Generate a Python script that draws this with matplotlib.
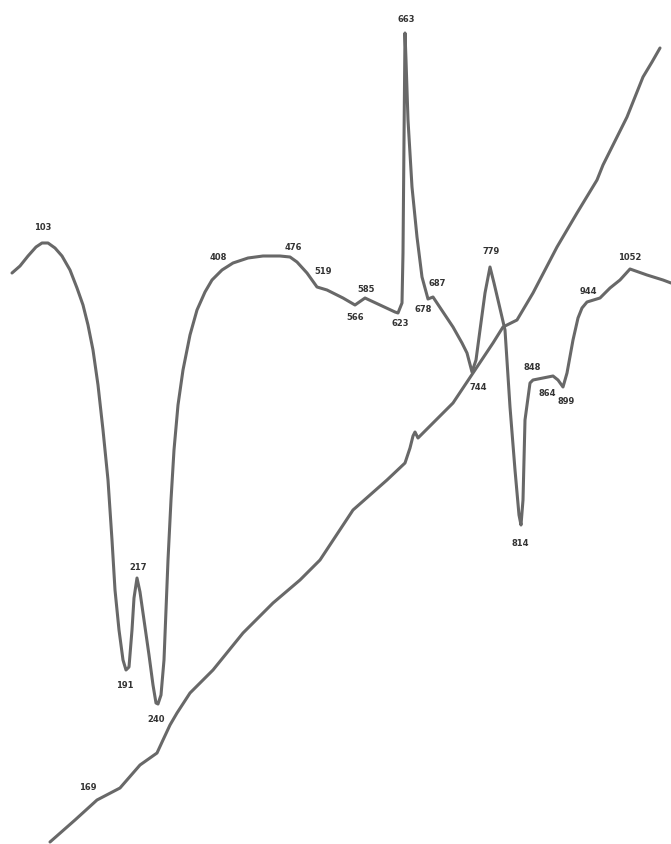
import matplotlib
matplotlib.use("Agg")
import matplotlib.pyplot as plt

# DTA trace (image pixel coordinates, y grows downward)
dta_x = [12, 20, 28, 36, 42, 48, 55, 62, 70, 77, 83, 88, 93, 98, 103, 108, 112, 115,
         119, 123, 126, 129, 132, 134, 137, 140, 144, 149, 153, 156, 158, 161, 164,
         166, 168, 171, 174, 178, 183, 190, 197, 205, 212, 222, 233, 248, 263, 280,
         290, 297, 307, 317, 327, 343, 355, 365, 380, 395, 398, 402, 403, 404, 405,
         406, 408, 412, 417, 422, 428, 433, 443, 453, 462, 467, 472, 476, 480, 485,
         490, 494, 498, 505, 510, 515, 519, 521, 523, 525, 530, 533, 543, 553, 558,
         563, 567, 573, 578, 582, 587, 600, 610, 620, 630, 647, 663, 671]
dta_y = [273, 266, 256, 247, 243, 243, 248, 256, 270, 288, 305, 325, 350, 385, 430,
         480, 540, 590, 630, 660, 670, 667, 630, 598, 578, 592, 620, 655, 685, 703,
         704, 695, 660, 610, 560, 500, 450, 405, 370, 335, 310, 292, 280, 270, 263,
         258, 256, 256, 257, 262, 273, 287, 290, 298, 305, 298, 305, 312, 313, 303,
         253, 140, 33, 60, 120, 187, 237, 277, 299, 297, 312, 327, 343, 353, 372,
         360, 330, 293, 267, 283, 300, 330, 407, 470, 515, 525, 500, 420, 383, 380,
         378, 376, 380, 387, 373, 340, 318, 308, 302, 298, 288, 280, 269, 275, 280,
         283]

# temperature (heating) line
temp_x = [50, 75, 97, 120, 140, 157, 163, 170, 177, 190, 213, 243, 273, 300, 320,
          353, 387, 405, 410, 413, 415, 418, 433, 453, 473, 493, 503, 517, 533, 557,
          577, 597, 603, 627, 643, 652, 660]
temp_y = [842, 820, 800, 788, 765, 753, 740, 725, 713, 693, 670, 633, 603, 580, 560,
          510, 480, 463, 448, 436, 432, 438, 423, 403, 373, 343, 327, 320, 293, 247,
          213, 180, 165, 117, 77, 62, 48]

# peak temperatures (°C) and where they are written
labels = ["103", "191", "217", "240", "169", "408", "476", "519", "566", "585", "623",
          "663", "678", "687", "779", "744", "848", "864", "899", "814", "944", "1052"]
label_x = [43, 125, 138, 156, 88, 218, 293, 323, 355, 366, 400, 406, 423, 437, 491,
           478, 532, 547, 566, 520, 588, 630]
label_y = [228, 686, 567, 720, 787, 257, 247, 272, 318, 289, 323, 20, 310, 284, 251,
           388, 368, 393, 402, 543, 292, 257]

fig = plt.figure(figsize=(6.71, 8.44), dpi=100)
ax = fig.add_axes([0, 0, 1, 1])
ax.set_xlim(0, 671)
ax.set_ylim(844, 0)
ax.axis("off")

line_kw = dict(color="#686868", linewidth=2.2, solid_capstyle="round",
               solid_joinstyle="round")
ax.plot(dta_x, dta_y, **line_kw)
ax.plot(temp_x, temp_y, **line_kw)

for txt, x, y in zip(labels, label_x, label_y):
    ax.text(x, y, txt, fontsize=6, fontweight="bold", color="#333333",
            ha="center", va="center")

fig.savefig("out.png", dpi=100)
